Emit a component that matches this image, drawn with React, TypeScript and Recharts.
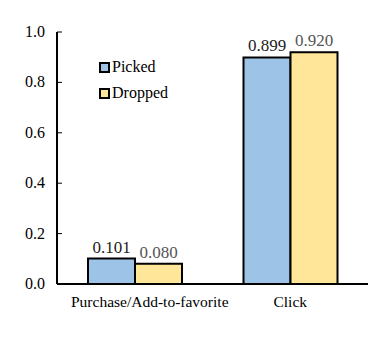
import { BarChart, Bar, XAxis, YAxis, LabelList } from 'recharts';

const categories = ['Purchase/Add-to-favorite', 'Click'];
const picked = [0.101, 0.899];
const dropped = [0.08, 0.92];
const yTicks = [0, 0.2, 0.4, 0.6, 0.8, 1.0];

const data = categories.map((name, i) => ({ name, picked: picked[i], dropped: dropped[i] }));

const FONT = '"Liberation Serif", "Times New Roman", serif';

function YTick(props: any) {
  const { x, y, payload } = props;
  return (
    <g>
      <line x1={x + 12} x2={x + 17} y1={y} y2={y} stroke="#000" strokeWidth={1} />
      <text x={x} y={y} dy={5} textAnchor="end" fontFamily={FONT} fontSize={16} fill="#000">
        {Number(payload.value).toFixed(1)}
      </text>
    </g>
  );
}

// the first category label sits a bit right of its bar pair in the source
function XTick(props: any) {
  const { x, y, payload, index } = props;
  return (
    <text
      x={x + (index === 0 ? 15 : 0)}
      y={y}
      dy={9}
      textAnchor="middle"
      fontFamily={FONT}
      fontSize={15.5}
      fill="#000"
    >
      {payload.value}
    </text>
  );
}

function LegendBox() {
  const items = [
    { label: 'Picked', fill: '#9DC3E6' },
    { label: 'Dropped', fill: '#FFE699' },
  ];
  return (
    <div style={{ position: 'absolute', left: 99, top: 54, fontFamily: FONT, fontSize: 16 }}>
      {items.map((it) => (
        <div key={it.label} style={{ display: 'flex', alignItems: 'center', height: 26 }}>
          <span style={{ width: 7, height: 7, border: '2px solid #000', background: it.fill, marginRight: 2 }} />
          <span>{it.label}</span>
        </div>
      ))}
    </div>
  );
}

export default function App() {
  return (
    <div style={{ position: 'absolute', left: 0, top: 0, width: 390, height: 343, background: '#fff' }}>
      <BarChart
        width={390}
        height={343}
        data={data}
        margin={{ top: 32, right: 22, bottom: 0, left: 0 }}
        barGap={0}
        barCategoryGap={31}
      >
        <XAxis
          dataKey="name"
          height={59}
          tickLine={false}
          axisLine={{ stroke: '#000', strokeWidth: 2 }}
          tick={<XTick />}
          tickMargin={8}
          interval={0}
        />
        <XAxis
          xAxisId="top"
          orientation="top"
          dataKey="name"
          height={0}
          tick={false}
          tickLine={false}
          axisLine={{ stroke: '#000', strokeWidth: 2 }}
        />
        <YAxis
          width={57}
          domain={[0, 1]}
          ticks={yTicks}
          tickSize={0}
          tickMargin={12}
          tickLine={false}
          axisLine={{ stroke: '#000', strokeWidth: 2 }}
          tick={<YTick />}
        />
        <YAxis
          yAxisId="right"
          orientation="right"
          width={0}
          domain={[0, 1]}
          tick={false}
          tickLine={false}
          axisLine={{ stroke: '#000', strokeWidth: 2 }}
        />
        <Bar dataKey="picked" fill="#9DC3E6" stroke="#000" strokeWidth={2} isAnimationActive={false}>
          <LabelList
            dataKey="picked"
            position="top"
            offset={6}
            formatter={(v: any) => Number(v).toFixed(3)}
            fontFamily={FONT}
            fontSize={17}
            fill="#222"
          />
        </Bar>
        <Bar dataKey="dropped" fill="#FFE699" stroke="#000" strokeWidth={2} isAnimationActive={false}>
          <LabelList
            dataKey="dropped"
            position="top"
            offset={6}
            formatter={(v: any) => Number(v).toFixed(3)}
            fontFamily={FONT}
            fontSize={17}
            fill="#555"
          />
        </Bar>
      </BarChart>
      <LegendBox />
    </div>
  );
}
